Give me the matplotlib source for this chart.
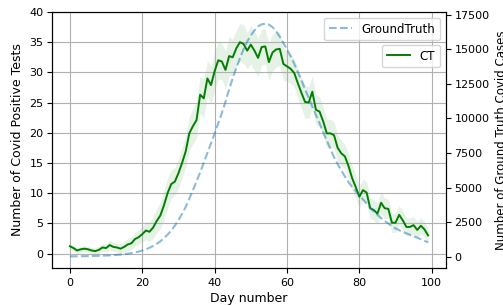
import numpy as np
import matplotlib
matplotlib.use('Agg')
import matplotlib.pyplot as plt

days = np.arange(100)

# mean number of positive tests (CT) per day
ct = [1.2, 0.9, 0.5, 0.7, 0.8, 0.7, 0.5, 0.4, 0.6, 1.0,
      0.9, 1.4, 1.1, 1.0, 0.8, 1.1, 1.5, 1.7, 2.4, 2.7,
      3.2, 3.8, 3.6, 4.3, 5.4, 6.3, 8.0, 10.0, 11.5, 11.9,
      13.3, 15.0, 16.9, 19.9, 21.1, 22.1, 26.3, 25.7, 29.0, 27.9,
      30.2, 32.0, 31.8, 30.4, 32.7, 32.5, 34.0, 35.0, 34.7, 33.6,
      34.6, 33.6, 32.4, 34.2, 34.3, 31.7, 33.3, 33.8, 33.9, 31.4,
      31.0, 30.6, 29.9, 28.2, 26.6, 25.1, 25.0, 26.8, 23.8, 23.5,
      21.9, 19.9, 19.9, 19.6, 17.5, 16.6, 16.1, 14.5, 12.5, 11.0,
      9.4, 10.5, 10.1, 7.5, 7.2, 6.6, 8.4, 7.5, 7.4, 5.1,
      5.1, 6.4, 5.5, 4.4, 4.4, 4.7, 3.9, 4.6, 4.0, 3.0]

# spread of the CT estimate
ct_std = [0.4, 0.4, 0.5, 0.5, 0.5, 0.5, 0.5, 0.6, 0.6, 0.6,
          0.7, 0.8, 0.7, 0.7, 0.8, 0.9, 1.0, 1.0, 1.1, 1.2,
          1.3, 1.5, 1.6, 1.8, 2.0, 2.2, 2.4, 2.5, 2.4, 2.3,
          2.4, 2.5, 2.6, 2.8, 2.9, 3.0, 3.1, 3.2, 3.0, 3.1,
          3.2, 3.1, 3.0, 3.1, 3.2, 3.0, 3.0, 3.1, 3.2, 3.0,
          3.2, 3.3, 3.1, 3.0, 2.9, 3.0, 3.1, 2.9, 2.8, 2.7,
          2.5, 2.4, 2.4, 2.5, 2.6, 2.7, 2.6, 2.6, 2.5, 2.4,
          2.3, 2.4, 2.3, 2.2, 2.2, 2.1, 2.0, 2.0, 2.0, 1.9,
          1.8, 1.8, 1.8, 1.7, 1.7, 1.8, 1.8, 1.7, 1.6, 1.6,
          1.6, 1.5, 1.6, 1.5, 1.5, 1.4, 1.4, 1.3, 1.3, 1.2]

# ground truth covid cases per day
gt = [30, 32, 35, 38, 42, 48, 53, 60, 68, 78,
      90, 103, 118, 137, 160, 190, 225, 265, 315, 375,
      450, 540, 650, 780, 940, 1120, 1350, 1600, 1900, 2250,
      2650, 3100, 3600, 4200, 4800, 5450, 6100, 6800, 7500, 8200,
      8900, 9650, 10400, 11200, 12100, 12900, 13650, 14350, 15000, 15550,
      16000, 16350, 16650, 16800, 16850, 16780, 16600, 16300, 15900, 15450,
      15000, 14500, 13950, 13350, 12750, 12100, 11500, 10850, 10250, 9650,
      9000, 8400, 7800, 7200, 6700, 6250, 5800, 5400, 5050, 4750,
      4450, 4150, 3850, 3550, 3270, 3030, 2800, 2590, 2400, 2220,
      2050, 1920, 1800, 1690, 1590, 1490, 1380, 1270, 1150, 1050]

plt.rcParams['font.size'] = 9
plt.rcParams['xtick.labelsize'] = 8
plt.rcParams['ytick.labelsize'] = 8
plt.rcParams['ytick.major.pad'] = 2.5
plt.rcParams['legend.fontsize'] = 8.5

ct = np.array(ct)
ct_std = np.array(ct_std)

fig, ax = plt.subplots(figsize=(5.03, 3.06), dpi=100)
fig.subplots_adjust(left=52/503, right=446/503, top=1-12/306, bottom=1-268/306)

ax.plot(days, ct, color='green', lw=1.4, label='CT')
ax.fill_between(days, ct - ct_std, ct + ct_std, color='green', alpha=0.1, lw=0)
ax.set_xlabel('Day number', labelpad=3)
ax.set_ylabel('Number of Covid Positive Tests')
ax.set_ylim(-2.4, 40)
ax.grid(True)
ax.legend(loc='upper right', bbox_to_anchor=(1, 0.895))

ax2 = ax.twinx()
ax2.plot(days, gt, color='tab:blue', alpha=0.5, ls='--', lw=1.5, label='GroundTruth')
ax2.set_ylabel('Number of Ground Truth Covid Cases', fontsize=8.5)
ax2.legend(loc='upper right')

fig.savefig('out.png')
